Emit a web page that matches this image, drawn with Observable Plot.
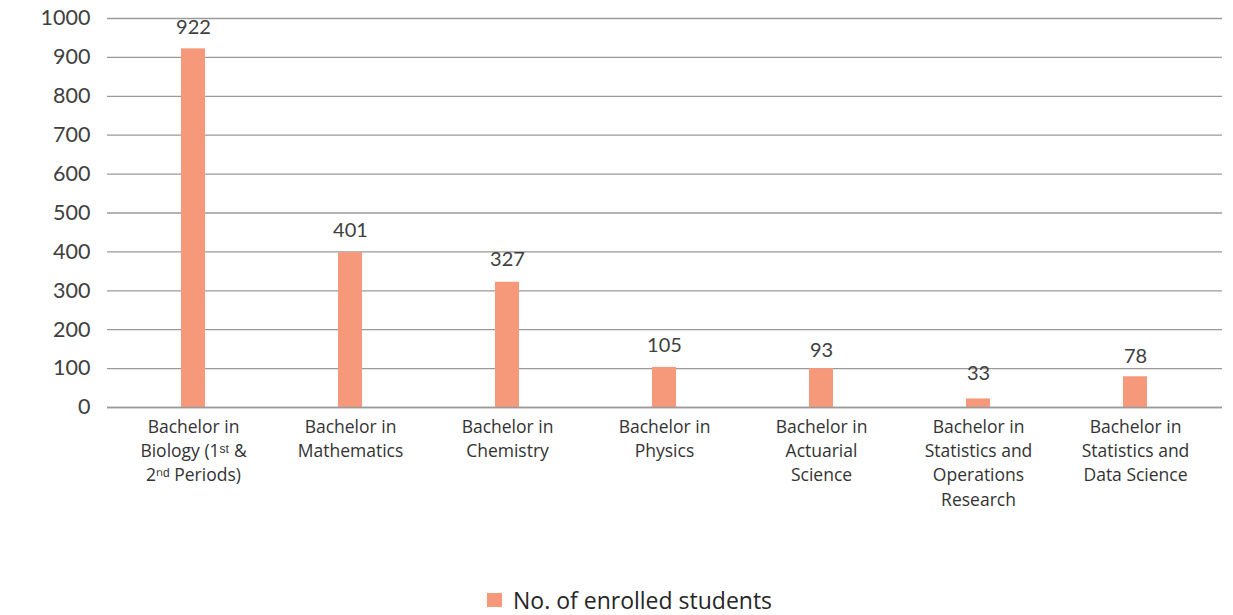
<!DOCTYPE html>
<html>
<head>
<meta charset="utf-8">
<script src="https://cdn.jsdelivr.net/npm/d3@7"></script>
<script src="https://cdn.jsdelivr.net/npm/@observablehq/plot@0.6"></script>
<style>
  html, body { margin: 0; padding: 0; background: #fff; }
  #wrap { position: relative; width: 1233px; height: 615px; }
  #legend { position: absolute; left: 487px; top: 584px; display: flex; align-items: center;
    font-family: "Open Sans", sans-serif; font-size: 23px; color: #262626; }
  #legend .sw { width: 15px; height: 14px; background: #F6997B; margin-right: 11px; }
</style>
</head>
<body>
<div id="wrap">
  <div id="chart"></div>
  <div id="legend"><span class="sw"></span><span>No. of enrolled students</span></div>
</div>
<script>
const categories = [
  "Bachelor in\nBiology (1ˢᵗ &\n2ⁿᵈ Periods)",
  "Bachelor in\nMathematics",
  "Bachelor in\nChemistry",
  "Bachelor in\nPhysics",
  "Bachelor in\nActuarial\nScience",
  "Bachelor in\nStatistics and\nOperations\nResearch",
  "Bachelor in\nStatistics and\nData Science"
];
// bar heights as drawn in the picture
const barValues = [922, 398, 322, 103, 100, 22, 79];
// numbers printed above the bars
const labelValues = [922, 401, 327, 105, 93, 33, 78];
const yTicks = [0, 100, 200, 300, 400, 500, 600, 700, 800, 900, 1000];

const data = categories.map((c, i) => ({cat: c, bar: barValues[i], label: labelValues[i]}));

const chart = Plot.plot({
  width: 1233,
  height: 575,
  marginTop: 18,
  marginBottom: 168,
  marginLeft: 107,
  marginRight: 11,
  style: {background: "#fff"},
  x: {domain: categories, paddingInner: 0.845, paddingOuter: 0.47, label: null, axis: null},
  y: {domain: [0, 1000], label: null, axis: null},
  marks: [
    Plot.gridY(yTicks, {stroke: "#9a9a9a", strokeOpacity: 1, strokeWidth: 1.3}),
    Plot.barY(data, {x: "cat", y: "bar", fill: "#F6997B"}),
    Plot.ruleY([0], {stroke: "#9a9a9a", strokeWidth: 1.3}),
    Plot.axisY(yTicks, {tickSize: 0, tickPadding: 17, fontSize: 21.5, fill: "#404040",
      fontFamily: "Lato, sans-serif", tickFormat: d => String(d)}),
    Plot.axisX({tickSize: 0, tickPadding: 8, fontSize: 17.5, lineHeight: 1.39, fill: "#333",
      fontFamily: "Open Sans, sans-serif", tickFormat: d => d}),
    Plot.text(data, {x: "cat", y: "label", text: d => String(d.label), dy: -21,
      fontSize: 20, fill: "#404040", fontFamily: "Lato, sans-serif"})
  ]
});
document.getElementById("chart").appendChild(chart);
</script>
</body>
</html>
